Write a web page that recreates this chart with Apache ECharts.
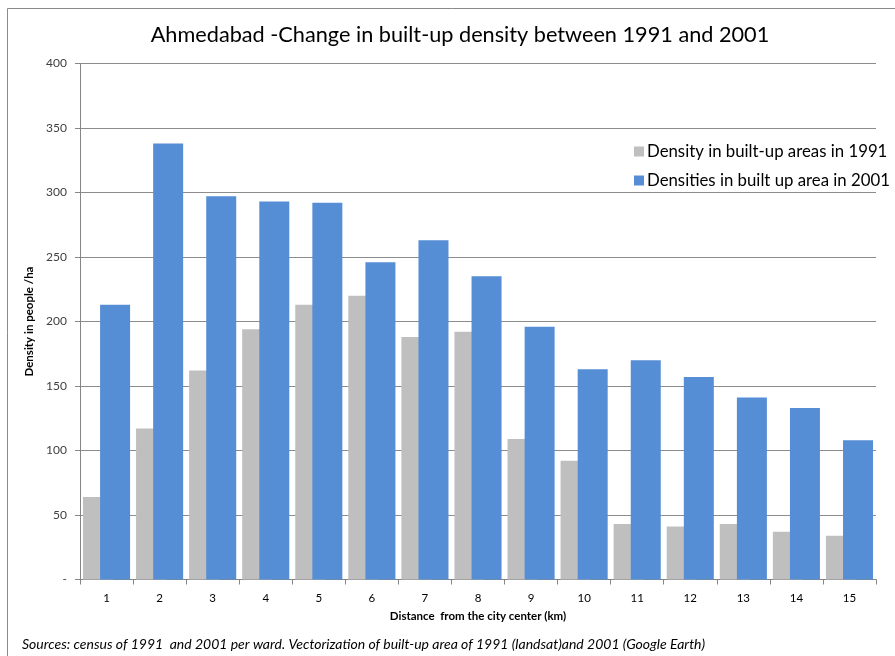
<!DOCTYPE html>
<html>
<head>
<meta charset="utf-8">
<script src="https://cdn.jsdelivr.net/npm/echarts@6/dist/echarts.min.js"></script>
<style>html,body{margin:0;padding:0;background:#fff}#c{width:895px;height:656px}</style>
</head>
<body>
<div id="c"></div>
<script>
const categories = ['1','2','3','4','5','6','7','8','9','10','11','12','13','14','15'];
const density1991 = [64, 117, 162, 194, 213, 220, 188, 192, 109, 92, 43, 41, 43, 37, 34];
const density2001 = [213, 338, 297, 293, 292, 246, 263, 235, 196, 163, 170, 157, 141, 133, 108];
const seriesNames = ['Density in built-up areas in 1991', 'Densities in built up area in 2001'];
const yTicks = [0, 50, 100, 150, 200, 250, 300, 350, 400];

const chart = echarts.init(document.getElementById('c'), null, {renderer: 'canvas'});
const FONT = 'Lato, "Open Sans", sans-serif';
chart.setOption({
  animation: false,
  backgroundColor: '#fff',
  title: {
    text: 'Ahmedabad -Change in built-up density between 1991 and 2001',
    left: 455, top: 19, textAlign: 'center',
    textStyle: {fontFamily: FONT, fontSize: 21.7, fontWeight: 'normal', color: '#000'}
  },
  legend: {
    orient: 'vertical', left: 629, top: 138, itemGap: 12,
    itemWidth: 10, itemHeight: 10, icon: 'rect',
    textStyle: {fontFamily: FONT, fontSize: 16.8, color: '#000', padding: [0, 0, 0, -2]},
    data: seriesNames
  },
  grid: {left: 80, right: 19, top: 63.5, bottom: 76.5, containLabel: false},
  xAxis: {
    type: 'category', data: categories,
    name: 'Distance  from the city center (km)', nameLocation: 'middle', nameGap: 31,
    nameTextStyle: {fontFamily: FONT, fontSize: 11.5, fontWeight: 'bold', color: '#000'},
    axisLine: {lineStyle: {color: '#868686'}},
    axisTick: {show: true, length: 5, lineStyle: {color: '#868686'}},
    axisLabel: {fontFamily: FONT, fontSize: 11.5, color: '#000', margin: 13}
  },
  yAxis: {
    type: 'value', min: 0, max: 400, interval: 50,
    name: 'Density in people /ha', nameLocation: 'middle', nameGap: 41,
    nameTextStyle: {fontFamily: FONT, fontSize: 11.5, fontWeight: 'bold', color: '#000'},
    axisLine: {show: true, lineStyle: {color: '#868686'}},
    axisTick: {show: true, length: 5, lineStyle: {color: '#868686'}},
    axisLabel: {fontFamily: FONT, fontSize: 12, color: '#404040', margin: 13,
      formatter: v => v === 0 ? '-' : String(v)},
    splitLine: {lineStyle: {color: '#8c8c8c', width: 1}}
  },
  series: [
    {name: seriesNames[0], type: 'bar', data: density1991, barWidth: 30, barGap: '-43%',
     itemStyle: {color: '#BFBFBF'}},
    {name: seriesNames[1], type: 'bar', data: density2001, barWidth: 30, barGap: '-43%',
     itemStyle: {color: '#558ED5'}}
  ],
  graphic: [
    {type: 'rect', shape: {x: 7.5, y: 8.5, width: 900, height: 700}, silent: true, z: -1,
     style: {fill: null, stroke: '#8a8a8a', lineWidth: 1}},
    {type: 'text', left: 22, top: 637,
     style: {text: 'Sources: census of 1991  and 2001 per ward. Vectorization of built-up area of 1991 (landsat)and 2001 (Google Earth)',
       font: 'italic 14px ' + FONT, fill: '#000'}}
  ]
});
</script>
</body>
</html>
